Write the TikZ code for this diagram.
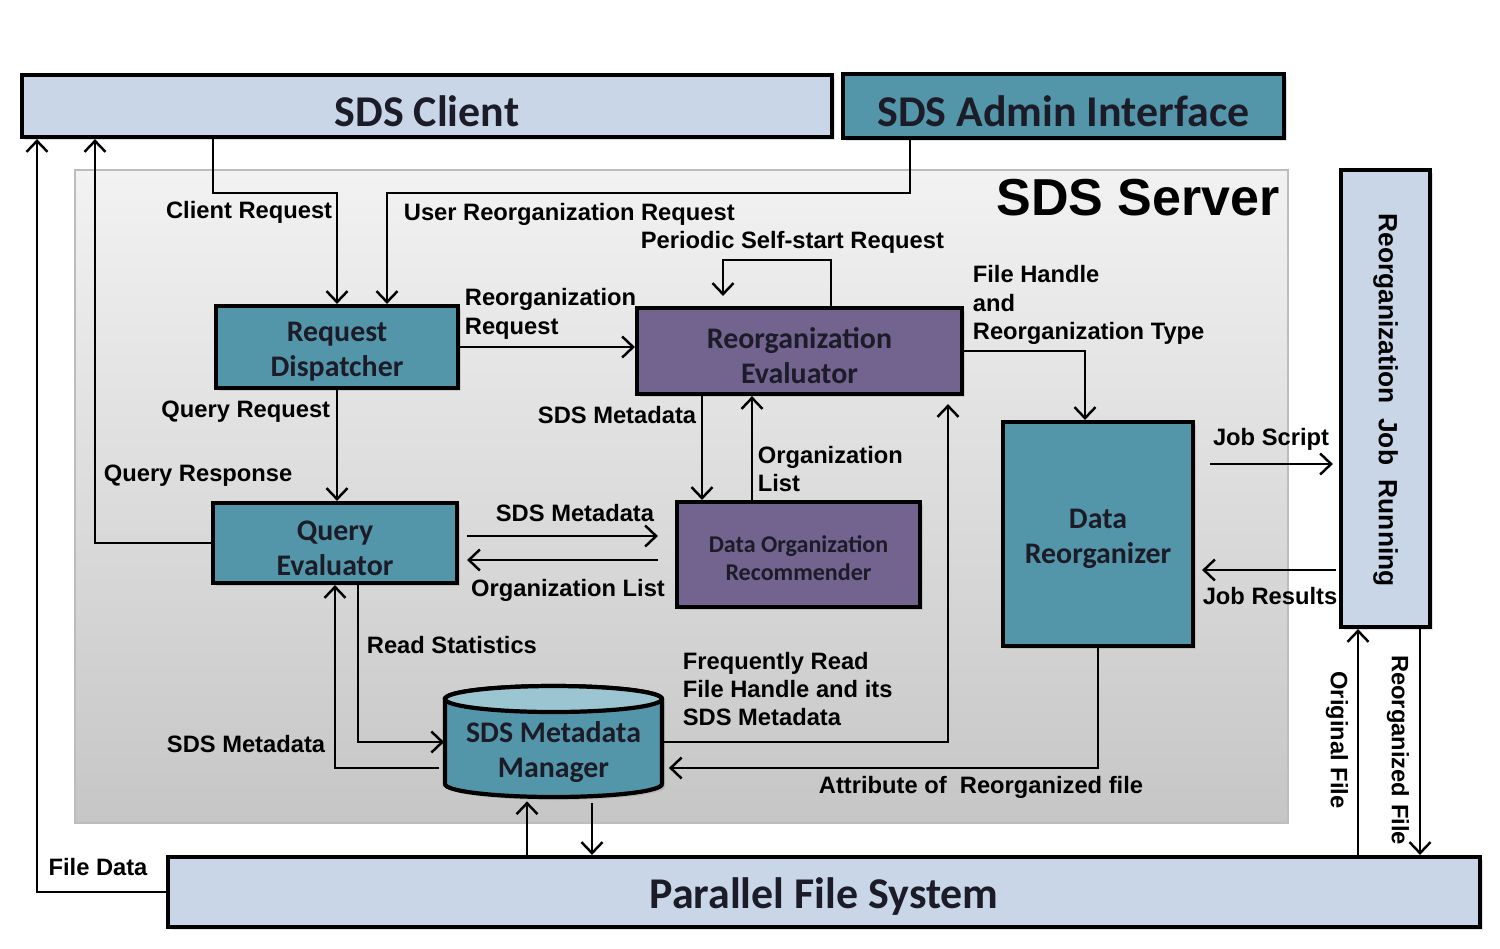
\documentclass[tikz,border=0pt]{standalone}
\usepackage{fontspec}
\setmainfont{Liberation Sans}
\newfontfamily\calibri{Carlito}
\usetikzlibrary{arrows.meta,shadows}
\definecolor{paleblue}{HTML}{C9D6E8}
\definecolor{tealbox}{HTML}{5496A9}
\definecolor{purplebox}{HTML}{72638F}
\definecolor{lidteal}{HTML}{9CC5D2}
\definecolor{boxtext}{HTML}{1C1C28}
\definecolor{srvtop}{HTML}{F2F2F2}
\definecolor{srvbot}{HTML}{C6C6C6}
\definecolor{srvline}{HTML}{BDBDBD}
\tikzset{
	boxbase/.style={
		draw,
		line width = 2.4pt,
		inner sep = 0pt,
		align = center,
		text = boxtext,
		drop shadow = {shadow xshift=0.06cm, shadow yshift=-0.06cm, opacity=0.25}
	},
	block/.style={
		boxbase,
		font = \calibri\bfseries\fontsize{17}{19.8}\selectfont,
		execute at begin node = {\rule{0pt}{2.15em}}
	},
	bigblock/.style={
		boxbase,
		fill = paleblue,
		font = \calibri\bfseries\fontsize{25}{30}\selectfont,
		execute at begin node = {\rule{0pt}{0.92em}}
	},
	lab/.style={
		inner sep = 0pt,
		align = left,
		font = \bfseries\fontsize{13.5}{16.2}\selectfont
	},
}
\tikzset{>={Straight Barb[length=0.22cm,width=0.42cm,line width=1.4pt]}}

\begin{document}
\begin{tikzpicture}[x=0.02cm, y=-0.02cm, line width=1pt]
    \useasboundingbox (0,0) rectangle (1500,948);
    \draw[srvline, line width=1.5pt, top color=srvtop, bottom color=srvbot] (75,170) rectangle (1288,823);
    \node[inner sep=0pt, font=\bfseries\fontsize{29.6}{34}\selectfont] (srv) at (1138,198) {SDS Server};

    \node[bigblock, minimum width=16.2cm, minimum height=1.24cm] (client) at (427,106) {SDS Client};
    \node[bigblock, fill=tealbox, minimum width=8.82cm, minimum height=1.28cm] (admin) at (1063.5,106) {SDS Admin Interface};
    \node[bigblock, minimum width=26.24cm, minimum height=1.4cm] (pfs) at (824,892) {Parallel File System};
    \node[boxbase, fill=paleblue, minimum width=1.78cm, minimum height=9.14cm] (jobrun) at (1385.5,398.5) {};
    \node[inner sep=0pt, rotate=-90, font=\bfseries\fontsize{15}{18}\selectfont] (ljob) at (1385.5,400) {Reorganization\ \ Job\ \ Running};

    \node[block, fill=tealbox, minimum width=4.84cm, minimum height=1.64cm] (disp) at (337,347) {Request\\Dispatcher};
    \node[block, fill=purplebox, minimum width=6.5cm, minimum height=1.72cm] (reval) at (799.5,351) {Reorganization\\Evaluator};
    \node[block, fill=tealbox, minimum width=4.88cm, minimum height=1.6cm] (qeval) at (335,543) {Query\\Evaluator};
    \node[block, fill=purplebox, minimum width=4.86cm, minimum height=2.1cm, font=\calibri\bfseries\fontsize{13.7}{16}\selectfont] (dorec) at (798.5,554.5) {Data Organization\\Recommender};
    \node[block, fill=tealbox, minimum width=3.8cm, minimum height=4.48cm] (dreorg) at (1098,534) {Data\\Reorganizer};

    \filldraw[fill=tealbox, line width=2.4pt, drop shadow={shadow xshift=0.06cm, shadow yshift=-0.06cm, opacity=0.25}] (445,699) -- (445,784) arc[start angle=180, end angle=360, x radius=2.17cm, y radius=0.26cm] -- (662,699) arc[start angle=0, end angle=180, x radius=2.17cm, y radius=0.26cm] -- cycle;
    \filldraw[fill=lidteal, line width=2.4pt] (553.5,699) ellipse[x radius=2.17cm, y radius=0.26cm];
    \node[minimum width=4.34cm, minimum height=2.22cm, inner sep=0pt] (mm) at (553.5,742) {};
    \node[inner sep=0pt, align=center, text=boxtext, font=\calibri\bfseries\fontsize{17}{19.8}\selectfont] (lmm) at (553.5,752) {SDS Metadata\\Manager};

    \draw[->] (client.south -| 213,0) |- (disp.north |- 0,193) -- (disp.north);
    \draw[->] (admin.south -| 910,0) |- (387,193) -- (387,0 |- disp.north);
    \draw[->, shorten >=0.2cm] (reval.north -| 831,0) |- (723,260) -- (723,0 |- reval.north);
    \draw[->] (disp.east) -- (disp.east -| reval.west);
    \draw[->] (reval.east) -| (1085,0 |- dreorg.north);
    \draw[->] (disp.south) -- (disp.south |- qeval.north);
    \draw[->] (qeval.west) -| (client.south -| 95,0);
    \draw[->] (pfs.west) -| (client.south -| 37,0);
    \draw[->, shorten <=0.16cm, shorten >=0.34cm] (qeval.east |- 0,536) -- (dorec.west |- 0,536);
    \draw[->, shorten <=0.34cm, shorten >=0.16cm] (dorec.west |- 0,560) -- (qeval.east |- 0,560);
    \draw[->] (reval.south -| 702,0) -- (dorec.north -| 702,0);
    \draw[->] (dorec.north -| 752,0) -- (reval.south -| 752,0);
    \draw[->] (qeval.south -| 358,0) |- (mm.west);
    \draw[->, shorten <=0.1cm] (mm.west |- 0,768) -| (qeval.south -| 335,0);
    \draw[->, shorten >=0.16cm] (mm.east) -| (reval.south -| 948,0);
    \draw[->, shorten >=0.12cm] (dreorg.south) |- (mm.east |- 0,768);
    \draw[->, shorten <=0.3cm, shorten >=0.12cm] (dreorg.east |- 0,464) -- (jobrun.west |- 0,464);
    \draw[->, shorten <=0.06cm, shorten >=0.14cm] (jobrun.west |- 0,570) -- (dreorg.east |- 0,570);
    \draw[->, shorten >=0.06cm] (pfs.north -| 527,0) -- (mm.south -| 527,0);
    \draw[->, shorten <=0.1cm] (mm.south -| 592,0) -- (pfs.north -| 592,0);
    \draw[->] (pfs.north -| 1358,0) -- (jobrun.south -| 1358,0);
    \draw[->] (jobrun.south -| 1420,0) -- (pfs.north -| 1420,0);

    \node[lab, anchor=east] (lcr) at (333,212) {Client Request};
    \node[lab, anchor=west] (lurr) at (403,214) {User Reorganization Request};
    \node[lab, anchor=west] (lpsr) at (640,242) {Periodic Self-start Request};
    \node[lab, anchor=west] (lrr) at (464,314) {Reorganization\\Request};
    \node[lab, anchor=west] (lfh) at (972,305) {File Handle\\and\\Reorganization Type};
    \node[lab, anchor=east] (lqrq) at (331,412) {Query Request};
    \node[lab, anchor=west] (lqrs) at (103,476) {Query Response};
    \node[lab, anchor=east] (lsm1) at (697,415) {SDS Metadata};
    \node[lab, anchor=west] (lol1) at (757,469) {Organization\\List};
    \node[lab] (lsm2) at (575,513) {SDS Metadata};
    \node[lab] (lol2) at (568,590) {Organization List};
    \node[lab] (ljs) at (1271,439) {Job Script};
    \node[lab] (ljr) at (1270,596) {Job Results};
    \node[lab, anchor=west] (lrs) at (366,645) {Read Statistics};
    \node[lab, anchor=west] (lfr) at (682,689) {Frequently Read\\File Handle and its\\SDS Metadata};
    \node[lab, anchor=east] (lsm3) at (326,744) {SDS Metadata};
    \node[lab] (lattr) at (981,787) {Attribute of\ \ Reorganized file};
    \node[lab] (lfd) at (98,867) {File Data};
    \node[lab, rotate=-90] (lof) at (1337,740) {Original File};
    \node[lab, rotate=-90] (lrf) at (1398,750) {Reorganized File};
\end{tikzpicture}
\end{document}
